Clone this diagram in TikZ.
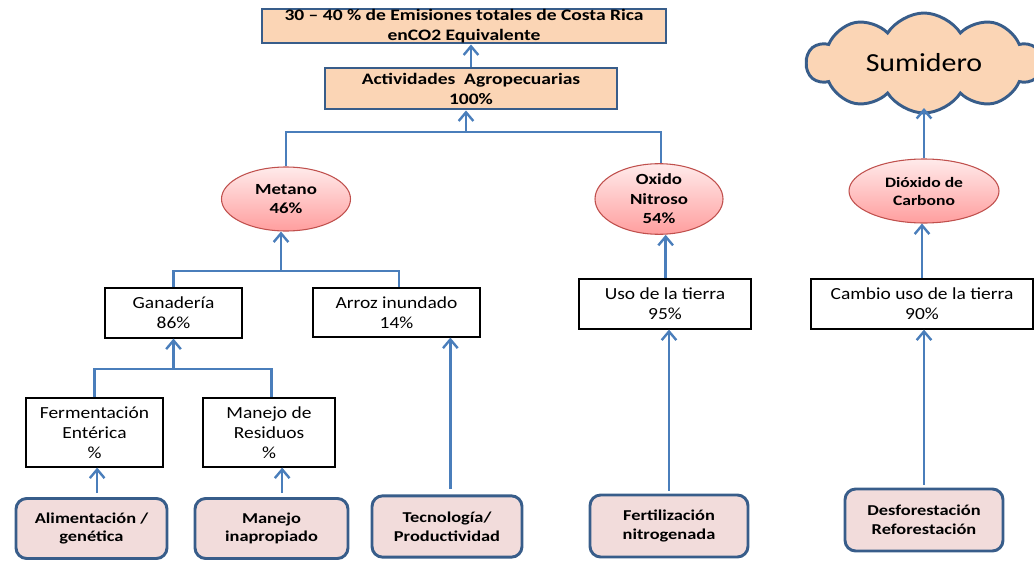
\documentclass[tikz,border=0pt]{standalone}
\usepackage{fontspec}
\setmainfont{Carlito}[FakeStretch=1.15, BoldFeatures={FakeStretch=1.22}]
\usetikzlibrary{arrows.meta, shapes.geometric, shapes.symbols}

\definecolor{linkblue}{RGB}{74,126,187}
\definecolor{edgeblue}{RGB}{56,93,138}
\definecolor{peach}{RGB}{251,213,181}
\definecolor{rosebox}{RGB}{242,220,219}
\definecolor{gasred}{RGB}{192,80,77}

\tikzset{
  topbox/.style={draw=edgeblue, line width=2.2pt, fill=peach, inner sep=0pt, align=center, font=\fontsize{12}{15}\selectfont\bfseries},
  gasnode/.style={ellipse, draw=gasred, line width=0.8pt, top color=red!8, bottom color=red!38, inner sep=0pt, align=center, font=\fontsize{11.6}{14.6}\selectfont\bfseries},
  sourcebox/.style={draw=black, line width=0.9pt, fill=white, inner sep=0pt, align=center, font=\fontsize{12.7}{15}\selectfont},
  causebox/.style={draw=edgeblue, line width=2.2pt, fill=rosebox, rounded corners=8pt, inner sep=0pt, align=center, font=\fontsize{11.3}{14}\selectfont\bfseries},
  link/.style={draw=linkblue, line width=1.8pt},
  uparrow/.style={link, -{Straight Barb[length=6.5pt,width=11pt]}}
}

\begin{document}
\begin{tikzpicture}[x=0.75pt,y=0.75pt,yscale=-1,xscale=1]
  \useasboundingbox (0,0) rectangle (1034,560);
  %Top boxes
  \node[topbox, minimum width=303pt, minimum height=25.5pt] (total) at (464,26) {30 -- 40 \% de Emisiones totales de Costa Rica\\enCO2 Equivalente};
  \node[topbox, minimum width=219pt, minimum height=30.75pt] (agro) at (471,88.5) {Actividades\ \ Agropecuarias\\100\%};
  %Sumidero
  \node[cloud, cloud puffs=10, cloud puff arc=115, cloud ignores aspect, draw=edgeblue, line width=2.2pt, fill=peach, inner sep=0pt, minimum width=176pt, minimum height=75pt, font=\fontsize{19.5}{22}\selectfont] (sumidero) at (924,63) {Sumidero};
  \coordinate (sumbase) at (924,108);
  %Gases
  \node[gasnode, minimum width=96.75pt, minimum height=48pt] (metano) at (286,199) {Metano\\46\%};
  \node[gasnode, minimum width=96pt, minimum height=48pt] (oxido) at (659,199) {Oxido\\Nitroso\\54\%};
  \node[gasnode, minimum width=112.5pt, minimum height=48pt, font=\fontsize{10.8}{13.5}\selectfont\bfseries] (dioxido) at (924,191) {Dióxido de\\Carbono};
  %Sources
  \node[sourcebox, minimum width=102.75pt, minimum height=37.5pt] (ganaderia) at (173.5,313) {Ganadería\\86\%};
  \node[sourcebox, minimum width=125.25pt, minimum height=36.75pt] (arroz) at (396.5,312.5) {Arroz inundado\\14\%};
  \node[sourcebox, minimum width=102.75pt, minimum height=51.75pt] (ferment) at (94.5,432.5) {Fermentación\\Entérica\\\%};
  \node[sourcebox, minimum width=99pt, minimum height=51.75pt] (residuos) at (269,432.5) {Manejo de\\Residuos\\\%};
  \node[sourcebox, minimum width=129pt, minimum height=37.5pt] (uso) at (665,304) {Uso de la tierra\\95\%};
  \node[sourcebox, minimum width=166.5pt, minimum height=37.5pt] (cambio) at (922,304) {Cambio uso de la tierra\\90\%};
  %Causes
  \node[causebox, minimum width=113.25pt, minimum height=45pt] (alim) at (91.5,528.5) {Alimentación /\\genética};
  \node[causebox, minimum width=114.75pt, minimum height=45pt] (manejo) at (271.5,528.5) {Manejo\\inapropiado};
  \node[causebox, minimum width=112.5pt, minimum height=46pt] (tecno) at (447,526.5) {Tecnología/\\Productividad};
  \node[causebox, minimum width=118.5pt, minimum height=46.5pt] (fert) at (669,526) {Fertilización\\nitrogenada};
  \node[causebox, minimum width=118.5pt, minimum height=46.5pt] (desf) at (924,520) {Desforestación\\Reforestación};

  %Branch points
  \coordinate (jgas) at (466,132);
  \coordinate (jmet) at (281,271);
  \coordinate (jgan) at (173.5,369);

  %Connectors
  \draw[uparrow] (agro.north) -- (agro.north |- total.south);
  \draw[link] (metano.north) |- (jgas) -| ([xshift=1.5pt]oxido.north);
  \draw[uparrow] (jgas) -- (jgas |- agro.south);
  \draw[link] (ganaderia.north) |- (jmet) -| ([xshift=2pt]arroz.north);
  \draw[uparrow] (jmet) -- (jmet |- metano.south);
  \draw[link] (ferment.north) |- (jgan) -| ([xshift=2pt]residuos.north);
  \draw[uparrow] (jgan) -- (ganaderia.south);
  \draw[uparrow, shorten <=3pt] ([xshift=2pt]alim.north -| ferment.south) -- ([xshift=2pt]ferment.south);
  \draw[uparrow, shorten <=3pt] ([xshift=8pt]manejo.north) -- ([xshift=8pt]manejo.north |- residuos.south);
  \draw[uparrow, shorten <=4pt] ([xshift=2.5pt]tecno.north) -- ([xshift=2.5pt]tecno.north |- arroz.south);
  \draw[uparrow] ([xshift=5pt]oxido.south |- uso.north) -- ([xshift=5pt]oxido.south);
  \draw[uparrow, shorten <=2pt] (fert.north) -- (fert.north |- uso.south);
  \draw[uparrow] (cambio.north) -- (cambio.north |- dioxido.south);
  \draw[uparrow, shorten <=2pt] (desf.north) -- (desf.north |- cambio.south);
  \draw[uparrow] (dioxido.north) -- (sumbase);
\end{tikzpicture}
\end{document}
